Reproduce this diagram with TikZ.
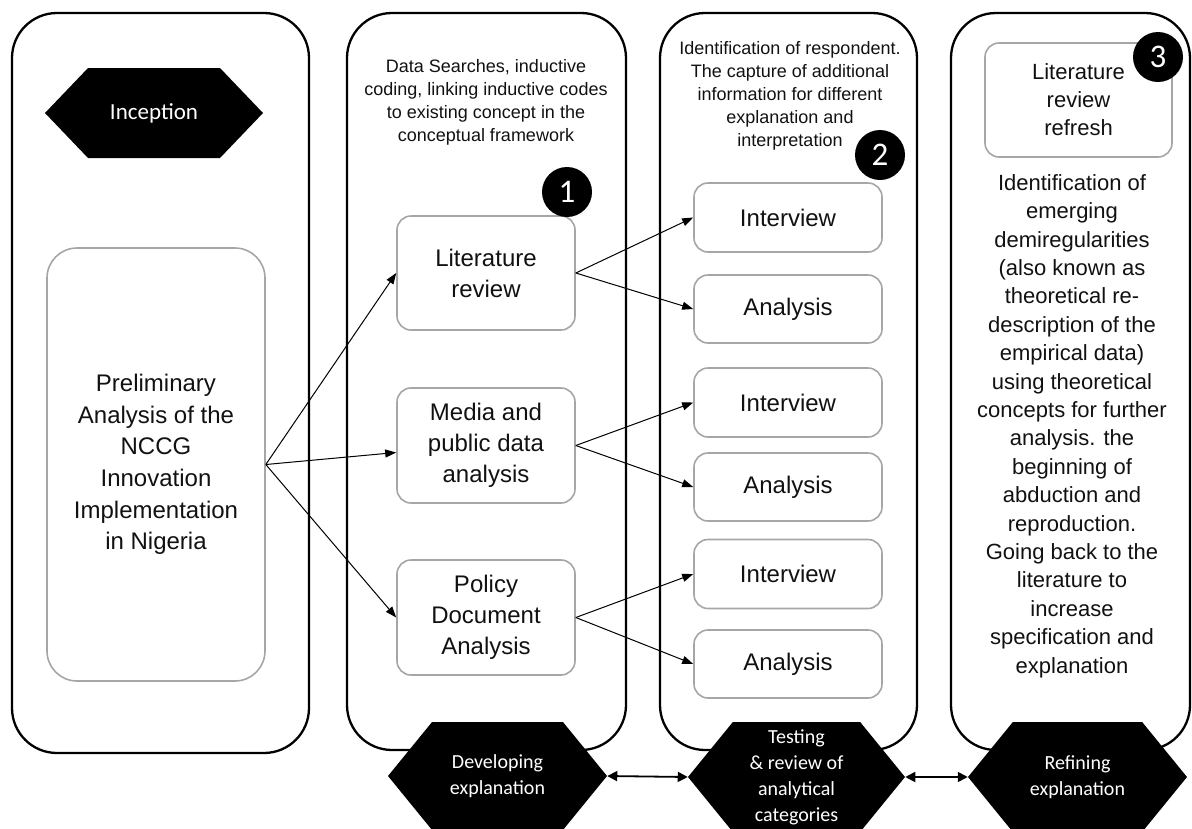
\documentclass[tikz,border=0pt]{standalone}
\usepackage{fontspec}
\setmainfont{Liberation Sans}
\newfontfamily\hexfont{Carlito}
\usetikzlibrary{shapes.symbols,arrows.meta}
\definecolor{boxgray}{HTML}{A6A6A6}
\definecolor{inktext}{HTML}{111111}

\begin{document}
\begin{tikzpicture}[x=1pt,y=-1pt,
  colbox/.style={draw=black, line width=2.3pt, rounded corners=45pt, inner sep=0pt},
  graybox/.style={draw=boxgray, line width=1.6pt, rounded corners=14pt, inner sep=0pt,
    align=center, text=inktext, font=\fontsize{24}{31}\selectfont},
  note/.style={align=center, text=inktext, inner sep=0pt},
  hexa/.style={shape=signal, signal to=east and west, fill=black, draw=none,
    text=white, align=center, inner sep=0pt, font=\hexfont\fontsize{20}{26}\selectfont},
  badge/.style={circle, fill=black, minimum size=50pt, inner sep=0pt,
    text=white, font=\hexfont\fontsize{33}{33}\selectfont},
  flow/.style={-{Triangle[length=11pt,width=8pt]}, line width=1pt, black},
  link/.style={{Triangle[length=10pt,width=10pt]}-{Triangle[length=10pt,width=10pt]}, line width=1.8pt, black}
]
\useasboundingbox (0,0) rectangle (1192,828);

% four phase columns
\node[colbox, minimum width=297pt, minimum height=740pt] (col1) at (160.5,383) {};
\node[colbox, minimum width=279pt, minimum height=737pt] (col2) at (486.5,381.5) {};
\node[colbox, minimum width=257pt, minimum height=737pt] (col3) at (788.5,381.5) {};
\node[colbox, minimum width=239pt, minimum height=737pt] (col4) at (1070.5,381.5) {};

% column 1
\node[hexa, minimum width=218pt, minimum height=90pt, signal pointer angle=92.6,
  font=\hexfont\fontsize{23}{28}\selectfont] (incep) at (154,113) {Inception};
\node[graybox, rounded corners=30pt, minimum width=218pt, minimum height=433pt,
  font=\fontsize{24}{31.6}\selectfont] (prelim) at (156,464.5)
  {Preliminary\\Analysis of the\\NCCG\\Innovation\\Implementation\\in Nigeria};

% column 2
\node[note, font=\fontsize{18}{23}\selectfont] (desc2) at (486,102)
  {Data Searches, inductive\\coding, linking inductive codes\\to existing concept in the\\conceptual framework};
\node[graybox, minimum width=178pt, minimum height=114pt] (lit) at (486,273) {Literature\\review};
\node[graybox, minimum width=178pt, minimum height=115pt] (media) at (486,445.5) {Media and\\public data\\analysis};
\node[graybox, minimum width=178pt, minimum height=115pt] (policy) at (486,617.5) {Policy\\Document\\Analysis};
\node[badge] (n1) at (567,192) {1};

% column 3
\node[note, font=\fontsize{18}{23}\selectfont] (desc3) at (790,95.5)
  {Identification of respondent.\\The capture of additional\\information for different\\explanation and\\interpretation};
\node[graybox, minimum width=188pt, minimum height=69pt] (int1) at (788,217.5) {Interview};
\node[graybox, minimum width=188pt, minimum height=68pt] (ana1) at (788,309) {Analysis};
\node[graybox, minimum width=188pt, minimum height=69pt] (int2) at (788,402.5) {Interview};
\node[graybox, minimum width=188pt, minimum height=68pt] (ana2) at (788,487) {Analysis};
\node[graybox, minimum width=188pt, minimum height=69pt] (int3) at (788,574) {Interview};
\node[graybox, minimum width=188pt, minimum height=68pt] (ana3) at (788,664) {Analysis};
\node[badge] (n2) at (880,155) {2};

% column 4
\node[graybox, minimum width=187pt, minimum height=114pt, font=\fontsize{22}{28}\selectfont]
  (refresh) at (1078.5,100) {Literature\\review\\refresh};
\node[badge] (n3) at (1158,57) {3};
\node[note, font=\fontsize{22}{28.4}\selectfont] (desc4) at (1072,426)
  {Identification of\\emerging\\demiregularities\\(also known as\\theoretical re-\\description of the\\empirical data)\\using theoretical\\concepts for further\\analysis. the\\beginning of\\abduction and\\reproduction.\\Going back to the\\literature to\\increase\\specification and\\explanation};

% phase labels along the bottom
\node[hexa, minimum width=219pt, minimum height=108pt, signal pointer angle=101.6] (dev) at (497.5,776)
  {Developing\\explanation};
\node[hexa, minimum width=217pt, minimum height=110pt, signal pointer angle=101.6] (test) at (796.5,777)
  {Testing\\\& review of\\analytical\\categories};
\node[hexa, minimum width=219pt, minimum height=110pt, signal pointer angle=101.6] (refine) at (1077.5,777)
  {Refining\\explanation};

% connectors
\draw[flow] (prelim.east) -- (lit.west);
\draw[flow] (prelim.east) -- ([yshift=-7pt]media.west);
\draw[flow] (prelim.east) -- (policy.west);
\draw[flow] (lit.east) -- (int1.west);
\draw[flow] (lit.east) -- (ana1.west);
\draw[flow] (media.east) -- (int2.west);
\draw[flow] (media.east) -- (ana2.west);
\draw[flow] (policy.east) -- (int3.west);
\draw[flow] (policy.east) -- (ana3.west);
\draw[link] (dev.east) -- (test.west);
\draw[link] (test.east) -- (refine.west);
\end{tikzpicture}
\end{document}
